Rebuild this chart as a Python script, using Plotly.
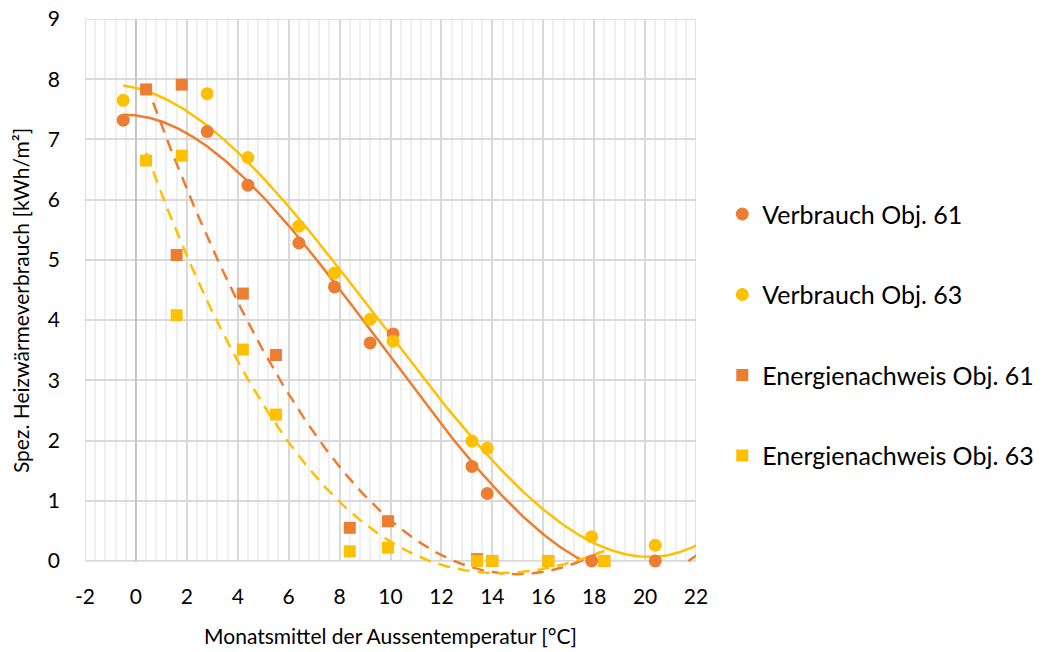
import numpy as np
import plotly.graph_objects as go

# ---- data ----
# (the last Verbrauch month lies just beyond the x-axis maximum and is clipped,
#  it only shows through the trendlines, which run to the right edge)
verb61_x = [-0.5, 2.8, 4.4, 6.4, 7.8, 9.2, 10.1, 13.2, 13.8, 17.9, 20.4, 22.5]
verb61_y = [7.32, 7.13, 6.24, 5.28, 4.55, 3.62, 3.77, 1.57, 1.12, 0.0, 0.0, 0.1]

verb63_x = [-0.5, 2.8, 4.4, 6.4, 7.8, 9.2, 10.1, 13.2, 13.8, 17.9, 20.4, 22.5]
verb63_y = [7.65, 7.76, 6.70, 5.56, 4.78, 4.01, 3.65, 1.99, 1.87, 0.40, 0.26, 0.2]

en61_x = [0.4, 1.8, 1.6, 4.2, 5.5, 8.4, 9.9, 13.4, 14.0, 16.2, 18.4]
en61_y = [7.83, 7.91, 5.08, 4.44, 3.42, 0.55, 0.66, 0.03, 0.0, 0.0, 0.0]

en63_x = [0.4, 1.8, 1.6, 4.2, 5.5, 8.4, 9.9, 13.4, 14.0, 16.2, 18.4]
en63_y = [6.65, 6.73, 4.08, 3.51, 2.43, 0.16, 0.22, 0.0, 0.0, 0.0, 0.0]

names = ["Verbrauch Obj. 61", "Verbrauch Obj. 63",
         "Energienachweis Obj. 61", "Energienachweis Obj. 63"]
x_ticks = list(range(-2, 23, 2))
y_ticks = list(range(0, 10))

ORANGE = "#ED7D31"
YELLOW = "#FFC000"
FONT = "Lato"


def trend(xs, ys, clip_zero=False):
    """Cubic least-squares trendline (like Excel's polynomial trendline)."""
    p = np.poly1d(np.polyfit(xs, ys, 3))
    x0, x1 = min(xs), max(xs)
    xx = np.linspace(x0, x1, 500)
    yy = p(xx)
    if not clip_zero:
        return list(xx), list(yy)
    roots = [r.real for r in p.roots if abs(r.imag) < 1e-9 and x0 < r.real < x1]
    pts = sorted(list(zip(xx, yy)) + [(r, 0.0) for r in roots])
    ox, oy = [], []
    for xv, yv in pts:
        if yv < -1e-9:
            if ox and ox[-1] is not None:
                ox.append(None)
                oy.append(None)
        else:
            ox.append(xv)
            oy.append(max(yv, 0.0))
    return ox, oy


fig = go.Figure()

# trendlines
tx, ty = trend(verb61_x, verb61_y, clip_zero=True)
fig.add_trace(go.Scatter(x=tx, y=ty, mode="lines", showlegend=False,
                         line=dict(color=ORANGE, width=2.5), hoverinfo="skip"))
tx, ty = trend(verb63_x, verb63_y)
fig.add_trace(go.Scatter(x=tx, y=ty, mode="lines", showlegend=False,
                         line=dict(color=YELLOW, width=2.5), hoverinfo="skip"))
tx, ty = trend(en61_x, en61_y)
fig.add_trace(go.Scatter(x=tx, y=ty, mode="lines", showlegend=False,
                         line=dict(color=ORANGE, width=2.5, dash="12px,8px"), hoverinfo="skip"))
tx, ty = trend(en63_x, en63_y)
fig.add_trace(go.Scatter(x=tx, y=ty, mode="lines", showlegend=False,
                         line=dict(color=YELLOW, width=2.5, dash="12px,8px"), hoverinfo="skip"))

# markers
fig.add_trace(go.Scatter(x=verb61_x, y=verb61_y, mode="markers", name=names[0],
                         legendgroup="a", marker=dict(color=ORANGE, size=13, symbol="circle")))
fig.add_trace(go.Scatter(x=verb63_x, y=verb63_y, mode="markers", name=names[1],
                         legendgroup="b", marker=dict(color=YELLOW, size=13, symbol="circle")))
fig.add_trace(go.Scatter(x=en61_x, y=en61_y, mode="markers", name=names[2],
                         legendgroup="c", marker=dict(color=ORANGE, size=12, symbol="square")))
fig.add_trace(go.Scatter(x=en63_x, y=en63_y, mode="markers", name=names[3],
                         legendgroup="d", marker=dict(color=YELLOW, size=12, symbol="square")))

shapes = [
    dict(type="rect", xref="x", yref="y", x0=-2.2, x1=22.2, y0=-0.5, y1=0,
         fillcolor="white", line=dict(width=0), layer="between"),
    dict(type="line", xref="x", yref="y", x0=-2, x1=22, y0=0, y1=0,
         line=dict(color="#d9d9d9", width=1.5), layer="between"),
    dict(type="line", xref="x", yref="y", x0=0, x1=0, y0=0, y1=9,
         line=dict(color="#bfbfbf", width=1.5), layer="between"),
    dict(type="line", xref="x", yref="y", x0=-2, x1=22, y0=9, y1=9,
         line=dict(color="#d9d9d9", width=1.5), layer="between"),
    dict(type="line", xref="x", yref="y", x0=-2, x1=-2, y0=0, y1=9,
         line=dict(color="#d9d9d9", width=1.5), layer="between"),
    dict(type="line", xref="x", yref="y", x0=22, x1=22, y0=0, y1=9,
         line=dict(color="#d9d9d9", width=1.5), layer="between"),
]

# page body has an 8px margin -> figure is 8px smaller and margins shifted
fig.update_layout(
    width=1040, height=644,
    margin=dict(l=77, r=352, t=11, b=70, autoexpand=False),
    paper_bgcolor="white", plot_bgcolor="white",
    font=dict(family=FONT, color="#000000", size=21),
    shapes=shapes,
    legend=dict(x=1.043, xanchor="left", xref="paper", y=0.694, yanchor="top",
                font=dict(size=25, family=FONT), tracegroupgap=45,
                itemwidth=30, bgcolor="rgba(0,0,0,0)"),
    xaxis=dict(range=[-2, 22], tickvals=x_ticks, ticktext=[str(v) for v in x_ticks],
               showgrid=True, gridcolor="#d9d9d9", gridwidth=1.5, zeroline=False,
               showline=False, ticks="", automargin=False, ticklabeloverflow="allow",
               minor=dict(dtick=0.4, tick0=-2, showgrid=True, gridcolor="#efefef", gridwidth=1.5),
               tickfont=dict(size=21),
               title=dict(text="Monatsmittel der Aussentemperatur [°C]", font=dict(size=21), standoff=22)),
    yaxis=dict(range=[-0.35, 9], tickvals=y_ticks, ticktext=[str(v) for v in y_ticks],
               showgrid=True, gridcolor="#d9d9d9", gridwidth=1.5, zeroline=False,
               showline=False, ticks="", ticklabelstandoff=24, automargin=False,
               ticklabeloverflow="allow",
               tickfont=dict(size=21),
               title=dict(text="Spez. Heizwärmeverbrauch [kWh/m²]", font=dict(size=21), standoff=15)),
)

fig.write_html("out.html")
